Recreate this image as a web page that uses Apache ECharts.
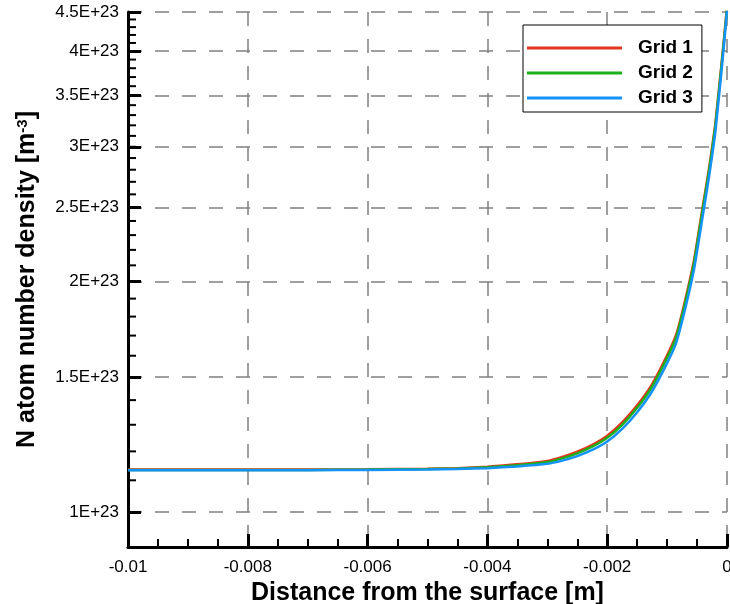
<!DOCTYPE html>
<html><head><meta charset="utf-8">
<script src="https://cdn.jsdelivr.net/npm/echarts@6/dist/echarts.min.js"></script>
<style>html,body{margin:0;padding:0;background:#fff}#c{width:730px;height:604px}</style>
</head><body><div id="c"></div>
<script>
// Distance from the surface [m]
const distance = [-0.01,-0.009,-0.008,-0.007,-0.006,-0.005,-0.0045,-0.004,-0.0035,-0.003,-0.00275,-0.0025,-0.00225,-0.002,-0.00175,-0.0015,-0.00125,-0.001,-0.00085,-0.0007,-0.00055,-0.0004,-0.0003,-0.0002,-0.00015,-0.0001,-0.00005,0];
// N atom number density, in units of 1E+23 m^-3
const grid1 = [1.136,1.136,1.136,1.136,1.137,1.139,1.141,1.146,1.154,1.166,1.180,1.199,1.224,1.258,1.309,1.378,1.469,1.602,1.703,1.888,2.135,2.520,2.810,3.190,3.470,3.790,4.150,4.570];
const grid2 = [1.135,1.135,1.135,1.135,1.136,1.138,1.140,1.144,1.151,1.162,1.175,1.193,1.217,1.250,1.300,1.368,1.458,1.590,1.690,1.873,2.117,2.500,2.790,3.170,3.450,3.770,4.130,4.550];
const grid3 = [1.134,1.134,1.134,1.134,1.135,1.136,1.138,1.141,1.147,1.156,1.167,1.183,1.205,1.236,1.284,1.350,1.438,1.565,1.662,1.840,2.077,2.450,2.740,3.110,3.390,3.710,4.080,4.520];
const seriesNames = ['Grid 1','Grid 2','Grid 3'];
const seriesColors = ['#e3361e','#1cb01c','#1592f5'];
const xTickValues = [-0.01,-0.008,-0.006,-0.004,-0.002,0];
const xTickLabels = ['-0.01','-0.008','-0.006','-0.004','-0.002','0'];
const yMajorTicks = [1,1.5,2,2.5,3,3.5,4,4.5];
const yMajorLabels = ['1E+23','1.5E+23','2E+23','2.5E+23','3E+23','3.5E+23','4E+23','4.5E+23'];
const yMinorTicks = [0.9,1.0,1.1,1.2,1.3,1.4,1.5,1.6,1.7,1.8,1.9,2.0,2.1,2.2,2.3,2.4,2.5,2.6,2.7,2.8,2.9,3.0,3.1,3.2,3.3,3.4,3.5,3.6,3.7,3.8,3.9,4.0,4.1,4.2,4.3,4.4,4.5];

const FONT = '"Liberation Sans", Arial, Helvetica, sans-serif';
const X_MIN = -0.01, X_MAX = 0, Y_MIN = 0.9, Y_MAX = 4.5;
const chart = echarts.init(document.getElementById('c'), null, {renderer:'canvas'});
const pairs = (xs, ys) => xs.map((x, i) => [x, ys[i]]);
const gridLine = {show:true, lineStyle:{color:'#808080', width:1.5, type:[14,13]}};
const nearest = (vals, labels) => v => {
  let best = 0;
  for (let i = 1; i < vals.length; i++) if (Math.abs(vals[i]-v) < Math.abs(vals[best]-v)) best = i;
  return labels[best];
};
const datasets = [grid1, grid2, grid3];
const MINOR_LEN = 8;

const lineSeries = seriesNames.map((name, i) => ({
  name, type:'line', symbol:'none', showSymbol:false, clip:true,
  smooth:0.2, z:3,
  color:seriesColors[i],
  lineStyle:{color:seriesColors[i], width:2.5},
  data:pairs(distance, datasets[i])
}));

// minor ticks of the left (log) axis, positioned through the axis scale
const minorTickSeries = {
  name:'y minor ticks', type:'custom', silent:true, clip:false, z:4,
  data: yMinorTicks.map(v => [X_MIN, v]),
  renderItem: (params, api) => {
    const p = api.coord([api.value(0), api.value(1)]);
    return {type:'line', shape:{x1:p[0], y1:p[1], x2:p[0] + MINOR_LEN, y2:p[1]},
            style:{stroke:'#000', lineWidth:2}};
  }
};

chart.setOption({
  animation:false,
  backgroundColor:'#fff',
  grid:{left:128, right:3, top:12, bottom:57, outerBoundsMode:'none', containLabel:false},
  xAxis:{
    type:'value', min:X_MIN, max:X_MAX, interval:0.002,
    name:'Distance from the surface [m]', nameLocation:'middle', nameGap:29,
    nameTextStyle:{fontFamily:FONT, fontWeight:'bold', fontSize:25, color:'#000'},
    axisLine:{show:true, onZero:false, lineStyle:{color:'#000', width:3}},
    axisTick:{show:true, inside:true, length:13, lineStyle:{color:'#000', width:3}},
    minorTick:{show:true, splitNumber:4, length:MINOR_LEN, lineStyle:{color:'#000', width:2}},
    axisLabel:{fontFamily:FONT, fontSize:17, color:'#000', margin:12, formatter:nearest(xTickValues, xTickLabels)},
    splitLine:gridLine
  },
  yAxis:{
    type:'log', logBase:10, min:Y_MIN, max:Y_MAX, position:'left',
    name:'N atom number density [m{sup|-3}]', nameLocation:'middle', nameGap:88,
    nameTextStyle:{fontFamily:FONT, fontWeight:'bold', fontSize:25, color:'#000',
      rich:{sup:{fontFamily:FONT, fontWeight:'bold', fontSize:15, color:'#000', verticalAlign:'top'}}},
    axisLine:{show:true, onZero:false, lineStyle:{color:'#000', width:3}},
    axisTick:{show:true, inside:true, length:13, customValues:yMajorTicks, lineStyle:{color:'#000', width:3}},
    axisLabel:{fontFamily:FONT, fontSize:17, color:'#000', margin:9, customValues:yMajorTicks, formatter:nearest(yMajorTicks, yMajorLabels)},
    splitLine:gridLine
  },
  legend:{
    orient:'vertical', left:523, top:25, padding:[12,9,3,4],
    itemWidth:95, itemHeight:3, itemGap:3,
    borderColor:'#000', borderWidth:1, backgroundColor:'#fff',
    textStyle:{fontFamily:FONT, fontWeight:'bold', fontSize:19, lineHeight:22, color:'#000', padding:[0,0,0,11]},
    data:seriesNames.map((name, i) => ({name, icon:'rect', itemStyle:{color:seriesColors[i]}}))
  },
  series: lineSeries.concat([minorTickSeries])
});
</script></body></html>
